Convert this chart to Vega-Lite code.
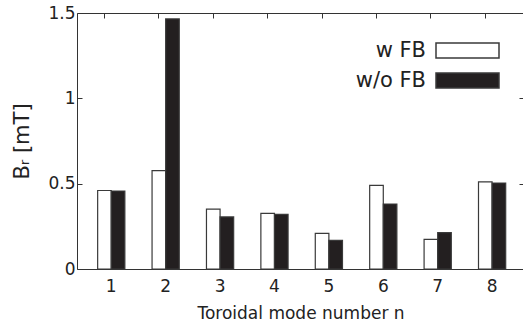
{
  "$schema": "https://vega.github.io/schema/vega-lite/v6.json",
  "width": 447,
  "height": 256,
  "autosize": {"type": "none"},
  "padding": {"left": 77, "top": 13, "right": 0, "bottom": 56},
  "config": {
    "font": "DejaVu Sans",
    "view": {"stroke": "#333", "strokeWidth": 1},
    "axis": {
      "grid": false,
      "domain": false,
      "tickColor": "#333",
      "tickSize": -5,
      "labelColor": "#222",
      "titleColor": "#222",
      "labelFont": "DejaVu Sans",
      "titleFont": "DejaVu Sans",
      "titleFontWeight": "normal",
      "labelFontSize": 17,
      "titleFontSize": 17
    }
  },
  "data": {
    "values": [
      {"n": 1, "case": "w FB", "Br": 0.46},
      {"n": 1, "case": "w/o FB", "Br": 0.457},
      {"n": 2, "case": "w FB", "Br": 0.576},
      {"n": 2, "case": "w/o FB", "Br": 1.465},
      {"n": 3, "case": "w FB", "Br": 0.351},
      {"n": 3, "case": "w/o FB", "Br": 0.305},
      {"n": 4, "case": "w FB", "Br": 0.326},
      {"n": 4, "case": "w/o FB", "Br": 0.32},
      {"n": 5, "case": "w FB", "Br": 0.209},
      {"n": 5, "case": "w/o FB", "Br": 0.168},
      {"n": 6, "case": "w FB", "Br": 0.49},
      {"n": 6, "case": "w/o FB", "Br": 0.381},
      {"n": 7, "case": "w FB", "Br": 0.174},
      {"n": 7, "case": "w/o FB", "Br": 0.213},
      {"n": 8, "case": "w FB", "Br": 0.511},
      {"n": 8, "case": "w/o FB", "Br": 0.504}
    ]
  },
  "resolve": {"axis": {"x": "independent", "y": "independent"}},
  "layer": [
    {
      "mark": {"type": "bar", "stroke": "#3a3a3a", "strokeWidth": 1.2},
      "encoding": {
        "x": {
          "field": "n",
          "type": "ordinal",
          "scale": {"paddingInner": 0, "paddingOuter": 0.108, "align": 0.6},
          "axis": {
            "orient": "bottom",
            "labelAngle": 0,
            "bandPosition": 0.377,
            "labelPadding": 14,
            "title": "Toroidal mode number n",
            "titleY": 49,
            "titleBaseline": "alphabetic"
          }
        },
        "xOffset": {
          "field": "case",
          "type": "nominal",
          "scale": {"paddingInner": 0, "paddingOuter": 1}
        },
        "y": {
          "field": "Br",
          "type": "quantitative",
          "scale": {"domain": [0, 1.5], "nice": false},
          "axis": {
            "orient": "left",
            "values": [0, 0.5, 1, 1.5],
            "format": "~g",
            "labelPadding": 7,
            "title": "Bᵣ [mT]",
            "titleFontSize": 21,
            "titleX": -49,
            "titleBaseline": "alphabetic"
          }
        },
        "fill": {
          "field": "case",
          "type": "nominal",
          "scale": {"domain": ["w FB", "w/o FB"], "range": ["#ffffff", "#231f20"]},
          "legend": {
            "orient": "none",
            "legendX": 380,
            "legendY": 27,
            "title": null,
            "padding": 0,
            "symbolType": "M-4.2,-1H4.2V1H-4.2Z",
            "symbolSize": 225,
            "symbolStrokeColor": "#3a3a3a",
            "symbolStrokeWidth": 1.5,
            "labelAlign": "right",
            "labelOffset": -52,
            "labelFontSize": 21,
            "labelFont": "DejaVu Sans",
            "labelColor": "#222",
            "rowPadding": 8
          }
        }
      }
    },
    {
      "mark": {"type": "bar", "opacity": 0},
      "encoding": {
        "x": {
          "field": "n",
          "type": "ordinal",
          "axis": {"orient": "top", "labels": false, "title": null, "bandPosition": 0.377}
        },
        "xOffset": {"field": "case", "type": "nominal"},
        "y": {
          "field": "Br",
          "type": "quantitative",
          "axis": {"orient": "right", "labels": false, "title": null, "values": [0.5, 1]}
        }
      }
    }
  ]
}
